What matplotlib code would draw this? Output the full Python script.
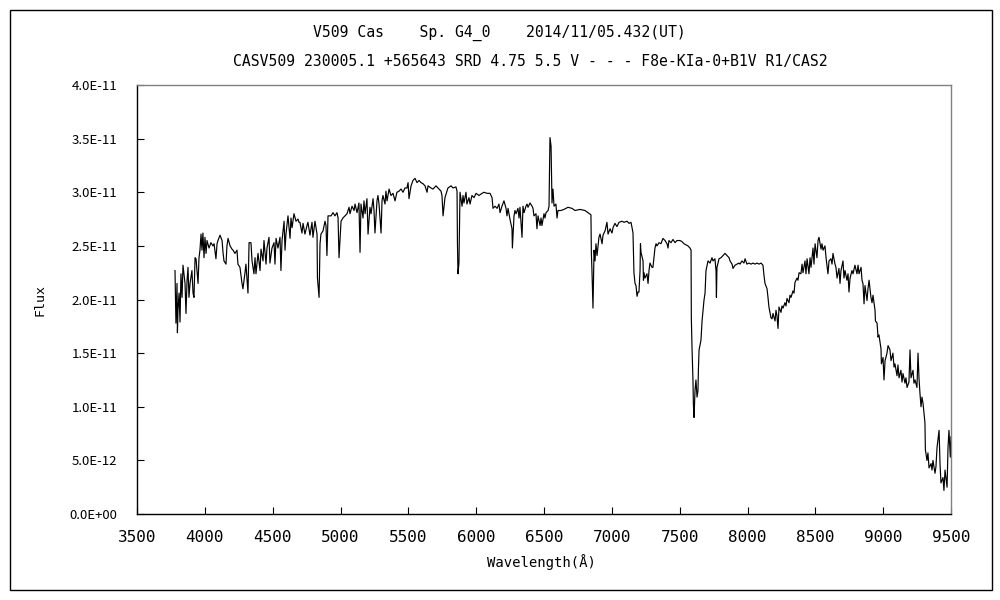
import matplotlib
matplotlib.use('Agg')
import matplotlib.pyplot as plt
from matplotlib.patches import Rectangle
from matplotlib.ticker import FuncFormatter, MultipleLocator

plt.rcParams['font.family'] = ['DejaVu Sans Mono', 'Noto Sans CJK JP']

title_1 = 'V509 Cas    Sp. G4_0    2014/11/05.432(UT)'
title_2 = 'CASV509 230005.1 +565643 SRD 4.75 5.5 V - - - F8e-KIa-0+B1V R1/CAS2'
x_label = 'Wavelength(Å)'
y_label = 'Flux'

# wavelength in Angstrom, flux in units of 1e-11
wl_blue = [3780, 3787, 3795, 3798, 3802, 3810, 3817, 3824, 3832, 3839,
           3854, 3861, 3869, 3876, 3883, 3891, 3905, 3913, 3920, 3928,
           3935, 3950, 3957, 3964, 3972, 3979, 3986, 3994, 4001, 4009,
           4016, 4031, 4045, 4060, 4068, 4082, 4090, 4097, 4112, 4127,
           4134, 4141, 4156, 4163, 4171, 4186, 4200, 4208, 4222, 4237,
           4244, 4259, 4274, 4281, 4296, 4303, 4318, 4326, 4340, 4348,
           4362, 4370, 4377, 4392, 4407, 4414, 4429, 4436, 4451, 4458,
           4473, 4480, 4495, 4510, 4517, 4525, 4539, 4554, 4561, 4569,
           4584, 4591, 4598, 4613, 4628, 4635, 4643, 4657, 4672, 4687,
           4694]
fx_blue = [2.27, 1.78, 2.15, 1.69, 1.90, 2.06, 1.79, 2.24, 2.02, 2.32,
           2.15, 1.87, 2.18, 2.30, 2.02, 2.15, 2.27, 2.06, 2.02, 2.39,
           2.38, 2.15, 2.39, 2.46, 2.61, 2.46, 2.62, 2.39, 2.58, 2.43,
           2.55, 2.48, 2.53, 2.50, 2.52, 2.38, 2.52, 2.55, 2.60, 2.55,
           2.44, 2.36, 2.33, 2.50, 2.57, 2.50, 2.47, 2.46, 2.43, 2.46,
           2.33, 2.30, 2.15, 2.10, 2.25, 2.33, 2.06, 2.53, 2.53, 2.36,
           2.24, 2.39, 2.24, 2.43, 2.27, 2.47, 2.36, 2.55, 2.33, 2.48,
           2.58, 2.34, 2.48, 2.53, 2.33, 2.57, 2.48, 2.58, 2.27, 2.55,
           2.73, 2.46, 2.61, 2.78, 2.57, 2.76, 2.67, 2.80, 2.73, 2.75,
           2.72]

wl_green = [4701, 4716, 4724, 4738, 4753, 4760, 4775, 4790, 4797, 4812,
            4827, 4830, 4842, 4849, 4856, 4871, 4886, 4893, 4900, 4908,
            4930, 4945, 4959, 4974, 4982, 4989, 5004, 5018, 5033, 5048,
            5063, 5070, 5085, 5100, 5107, 5122, 5136, 5144, 5151, 5166,
            5173, 5181, 5195, 5203, 5217, 5225, 5240, 5247, 5254, 5269,
            5276, 5284, 5299, 5306, 5313, 5328, 5335, 5343, 5358, 5372,
            5387, 5402, 5416, 5431, 5446, 5461, 5475, 5490, 5498, 5505,
            5520, 5534, 5549, 5564, 5579, 5593, 5608, 5623, 5638, 5645,
            5667, 5682, 5704, 5719]
fx_green = [2.72, 2.62, 2.71, 2.61, 2.69, 2.72, 2.60, 2.72, 2.58, 2.73,
            2.61, 2.20, 2.02, 2.52, 2.61, 2.64, 2.73, 2.69, 2.41, 2.78,
            2.78, 2.81, 2.78, 2.81, 2.76, 2.39, 2.73, 2.76, 2.78, 2.80,
            2.86, 2.80, 2.87, 2.83, 2.89, 2.81, 2.90, 2.44, 2.89, 2.76,
            2.92, 2.80, 2.94, 2.61, 2.86, 2.80, 2.94, 2.83, 2.62, 2.92,
            2.97, 2.89, 2.62, 2.92, 2.97, 2.89, 3.01, 2.92, 3.03, 2.97,
            2.99, 2.92, 3.00, 3.01, 3.03, 3.00, 3.04, 3.04, 3.09, 2.94,
            3.06, 3.11, 3.13, 3.09, 3.11, 3.09, 3.08, 3.06, 3.00, 3.06,
            3.04, 3.03, 3.06, 3.04]

wl_red = [5741, 5748, 5756, 5770, 5785, 5792, 5815, 5829, 5851, 5859,
          5862, 5866, 5873, 5881, 5896, 5903, 5910, 5925, 5932, 5947,
          5955, 5969, 5984, 5999, 6021, 6043, 6058, 6080, 6102, 6117,
          6124, 6139, 6154, 6168, 6176, 6190, 6205, 6220, 6227, 6235,
          6249, 6264, 6267, 6279, 6286, 6294, 6308, 6316, 6323, 6338,
          6345, 6353, 6367, 6375, 6382, 6397, 6412, 6419, 6426, 6441,
          6448, 6456, 6471, 6478, 6485, 6500, 6507, 6515, 6530, 6537,
          6544, 6552, 6559, 6566, 6574, 6588, 6596, 6603, 6625, 6647,
          6662, 6677, 6706]
fx_red = [3.01, 2.97, 2.78, 2.95, 3.01, 3.04, 3.06, 3.04, 3.05, 3.01,
          2.52, 2.24, 2.34, 3.00, 2.87, 2.97, 2.90, 3.00, 2.89, 2.95,
          2.89, 2.97, 2.95, 2.99, 2.97, 2.99, 3.00, 2.99, 2.99, 2.95,
          2.85, 2.87, 2.85, 2.89, 2.81, 2.87, 2.92, 2.85, 2.78, 2.85,
          2.75, 2.66, 2.48, 2.78, 2.83, 2.80, 2.85, 2.76, 2.86, 2.58,
          2.87, 2.81, 2.87, 2.89, 2.86, 2.90, 2.87, 2.85, 2.78, 2.80,
          2.66, 2.78, 2.69, 2.76, 2.69, 2.80, 2.76, 2.81, 2.83, 2.87,
          3.51, 3.43, 2.90, 3.03, 2.87, 2.89, 2.76, 2.83, 2.83, 2.84,
          2.85, 2.86, 2.85]

wl_far = [6729, 6765, 6802, 6824, 6846, 6849, 6854, 6861, 6869, 6876,
          6883, 6891, 6905, 6913, 6928, 6935, 6950, 6964, 6972, 6987,
          7001, 7009, 7023, 7038, 7053, 7075, 7090, 7112, 7127, 7141,
          7149, 7156, 7163, 7171, 7178, 7186, 7193, 7200, 7208, 7211,
          7215, 7230, 7233, 7237, 7244, 7259, 7267, 7274, 7281, 7296,
          7303, 7318, 7326, 7333, 7348, 7362, 7377, 7392, 7407, 7414,
          7421, 7436, 7451, 7466, 7480, 7502, 7517, 7532, 7547, 7561,
          7576, 7584, 7586, 7591, 7598, 7601, 7606, 7613, 7620, 7628,
          7635, 7638, 7643, 7657, 7665, 7672, 7679, 7687, 7694, 7702]
fx_far = [2.83, 2.84, 2.83, 2.81, 2.79, 2.44, 2.25, 1.92, 2.46, 2.36,
          2.52, 2.41, 2.58, 2.61, 2.52, 2.60, 2.64, 2.72, 2.61, 2.66,
          2.62, 2.67, 2.71, 2.68, 2.72, 2.73, 2.72, 2.73, 2.71, 2.72,
          2.67, 2.62, 2.25, 2.15, 2.13, 2.03, 2.07, 2.07, 2.27, 2.52,
          2.44, 2.36, 2.18, 2.25, 2.20, 2.24, 2.15, 2.27, 2.34, 2.30,
          2.30, 2.48, 2.52, 2.50, 2.53, 2.52, 2.57, 2.55, 2.52, 2.48,
          2.55, 2.53, 2.56, 2.53, 2.55, 2.55, 2.54, 2.52, 2.51, 2.50,
          2.48, 2.46, 1.83, 1.55, 1.25, 1.03, 0.90, 1.15, 1.25, 1.09,
          1.15, 1.34, 1.53, 1.62, 1.80, 1.90, 1.99, 2.06, 2.27, 2.32]

wl_ir = [7709, 7724, 7738, 7746, 7760, 7768, 7771, 7775, 7790, 7805,
         7819, 7834, 7849, 7864, 7871, 7886, 7893, 7908, 7923, 7937,
         7945, 7959, 7974, 7982, 7996, 8011, 8026, 8041, 8055, 8070,
         8085, 8100, 8114, 8122, 8129, 8144, 8151, 8158, 8173, 8181,
         8188, 8203, 8210, 8217, 8225, 8232, 8247, 8254, 8262, 8276,
         8284, 8291, 8306, 8313, 8321, 8335, 8343, 8350, 8365, 8372,
         8380, 8394, 8402, 8409, 8424, 8431, 8439, 8453, 8461, 8468,
         8483, 8490, 8498, 8512, 8520, 8527, 8542, 8549, 8557, 8571,
         8579, 8593, 8601, 8615, 8623, 8630, 8645, 8652, 8660, 8674,
         8682, 8689, 8704, 8711, 8719, 8733, 8741, 8748, 8756, 8770,
         8778, 8792, 8807, 8815, 8822, 8837, 8844, 8851, 8859, 8866,
         8881, 8888, 8896, 8910, 8918, 8925, 8940, 8943, 8955, 8962,
         8969, 8984, 8987, 8999, 9006, 9014, 9028, 9036, 9050, 9058,
         9072, 9080, 9087, 9102, 9109, 9117, 9131, 9139, 9146, 9161,
         9168, 9176, 9190, 9198, 9205, 9220, 9227, 9235, 9249, 9257,
         9264, 9271, 9279, 9286, 9294, 9308, 9311, 9323, 9330, 9338,
         9353, 9360, 9367, 9382, 9389, 9397, 9412, 9419, 9426, 9441,
         9448, 9456, 9471, 9478, 9485, 9495, 9500]
fx_ir = [2.36, 2.34, 2.39, 2.36, 2.38, 2.27, 2.02, 2.30, 2.38, 2.39,
         2.41, 2.43, 2.41, 2.39, 2.36, 2.33, 2.29, 2.32, 2.33, 2.34,
         2.33, 2.36, 2.34, 2.38, 2.33, 2.34, 2.33, 2.34, 2.33, 2.34,
         2.33, 2.34, 2.32, 2.22, 2.15, 2.10, 2.02, 1.93, 1.83, 1.82,
         1.87, 1.80, 1.90, 1.85, 1.73, 1.93, 1.88, 1.94, 1.92, 1.97,
         1.94, 2.01, 1.97, 2.04, 2.02, 2.08, 2.06, 2.16, 2.20, 2.18,
         2.25, 2.24, 2.33, 2.25, 2.36, 2.24, 2.38, 2.24, 2.39, 2.30,
         2.48, 2.33, 2.52, 2.39, 2.55, 2.58, 2.47, 2.52, 2.46, 2.50,
         2.39, 2.24, 2.36, 2.38, 2.33, 2.43, 2.33, 2.30, 2.20, 2.29,
         2.15, 2.27, 2.36, 2.20, 2.27, 2.18, 2.24, 2.07, 2.20, 2.27,
         2.24, 2.32, 2.24, 2.32, 2.24, 2.30, 2.18, 2.15, 1.96, 2.13,
         1.99, 2.10, 2.18, 2.02, 1.97, 2.04, 1.90, 1.80, 1.78, 1.65,
         1.67, 1.54, 1.40, 1.46, 1.25, 1.43, 1.50, 1.57, 1.53, 1.43,
         1.50, 1.37, 1.40, 1.29, 1.39, 1.27, 1.34, 1.23, 1.31, 1.22,
         1.27, 1.18, 1.23, 1.53, 1.27, 1.34, 1.22, 1.25, 1.18, 1.50,
         1.27, 1.13, 1.00, 1.09, 1.03, 0.85, 0.60, 0.50, 0.57, 0.43,
         0.47, 0.41, 0.50, 0.38, 0.44, 0.62, 0.78, 0.47, 0.29, 0.34,
         0.22, 0.41, 0.25, 0.62, 0.78, 0.53, 0.72]

wavelength = wl_blue + wl_green + wl_red + wl_far + wl_ir
flux = [v * 1e-11 for v in fx_blue + fx_green + fx_red + fx_far + fx_ir]
assert len(wavelength) == len(flux)

fig = plt.figure(figsize=(10, 6), dpi=100)
ax = fig.add_axes([0.137, 0.1433, 0.814, 0.715])
ax.plot(wavelength, flux, color='black', lw=0.85)

ax.set_xlim(3500, 9500)
ax.set_ylim(0, 4e-11)
ax.xaxis.set_major_locator(MultipleLocator(500))
ax.yaxis.set_major_locator(MultipleLocator(5e-12))
ax.yaxis.set_major_formatter(FuncFormatter(lambda v, p: '{:.1E}'.format(v)))
ax.tick_params(axis='both', direction='in', length=5, width=0.8)
ax.tick_params(axis='x', pad=11.5, labelsize=11.5)
ax.tick_params(axis='y', pad=14.4)
for lab in ax.get_yticklabels():
    lab.set_family(['Liberation Sans Narrow', 'Noto Sans CJK JP'])
    lab.set_fontsize(9.5)
ax.spines['top'].set_color('#808080')
ax.spines['right'].set_color('#808080')
for s in ax.spines.values():
    s.set_linewidth(1.0)

fig.text(0.541, 0.063, x_label, ha='center', va='center', fontsize=10)
fig.text(0.040, 0.500, y_label, ha='center', va='center', rotation=90, fontsize=9.5)

fig.text(0.499, 0.945, title_1, ha='center', va='center', fontsize=10.6)
fig.text(0.530, 0.897, title_2, ha='center', va='center', fontsize=10.6)

fig.patches.append(Rectangle((0.010, 0.016), 0.982, 0.968, transform=fig.transFigure,
                             fill=False, edgecolor='black', lw=1.0))

fig.savefig('out.png', dpi=100)
